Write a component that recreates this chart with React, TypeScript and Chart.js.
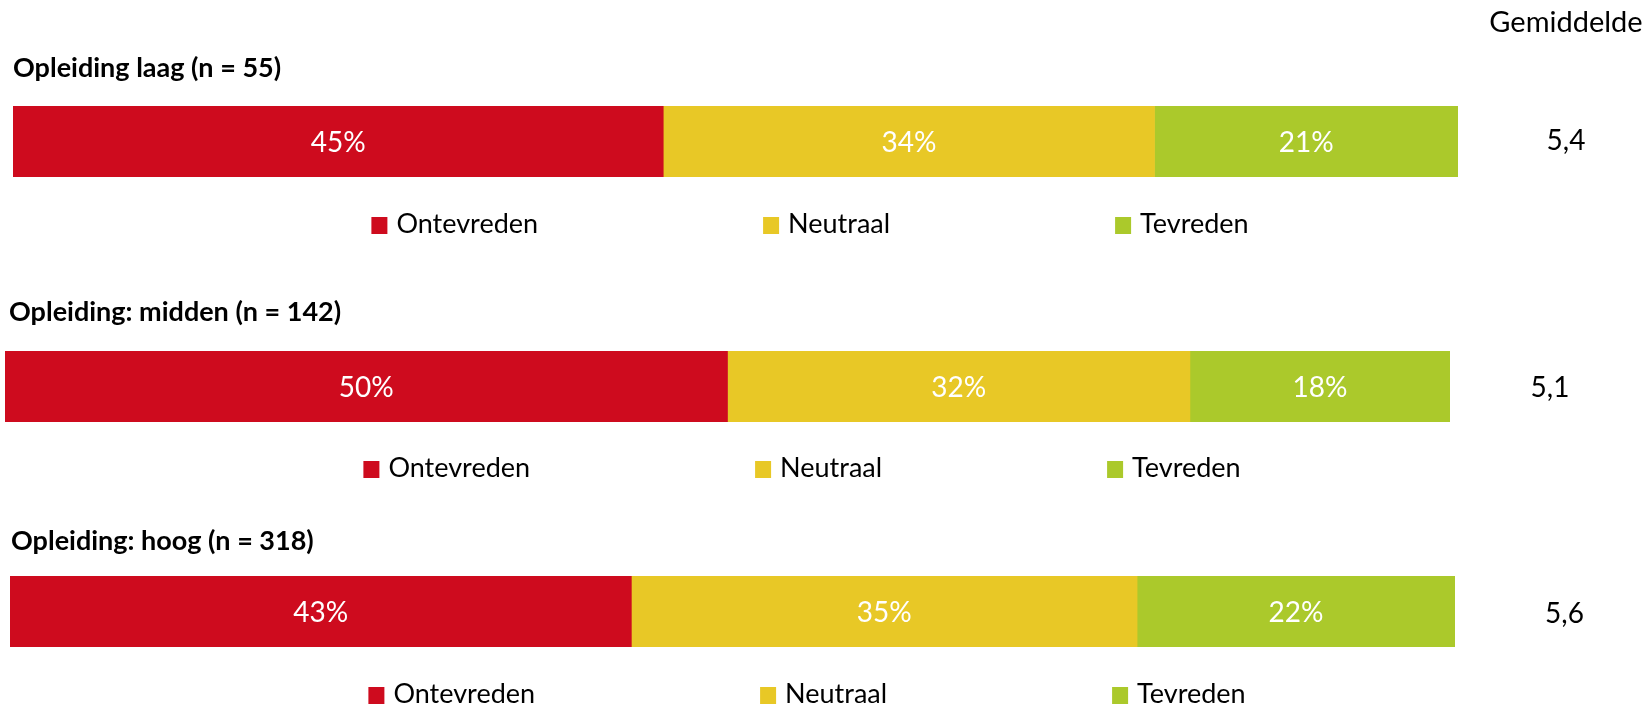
import React, { useEffect, useRef } from 'react';
import { Chart, registerables } from 'chart.js';

Chart.register(...registerables);

// ---- data ----
const groupTitles = ['Opleiding laag (n = 55)', 'Opleiding: midden (n = 142)', 'Opleiding: hoog (n = 318)'];
const seriesLabels = ['Ontevreden', 'Neutraal', 'Tevreden'];
const ontevreden = [45, 50, 43];
const neutraal = [34, 32, 35];
const tevreden = [21, 18, 22];
const gemiddelde = ['5,4', '5,1', '5,6'];
const averageHeader = 'Gemiddelde';
const seriesColors = ['#CE0B1E', '#E8C826', '#ABC92B'];

// ---- layout (canvas-local coordinates) ----
const FONT = '"Lato", "DejaVu Sans", sans-serif';
const panels = [
  { top: 0, height: 236, pad: { left: 13, right: 192, top: 106, bottom: 59 }, titleX: 13, titleBase: 77, avgX: 1566, avgBase: 150, legendBase: 233, legendOffset: 797, header: true },
  { top: 236, height: 250, pad: { left: 5, right: 200, top: 115, bottom: 64 }, titleX: 9, titleBase: 85, avgX: 1550, avgBase: 160.5, legendBase: 241, legendOffset: 797, header: false },
  { top: 486, height: 222, pad: { left: 10, right: 195, top: 90, bottom: 61 }, titleX: 11, titleBase: 64, avgX: 1564.5, avgBase: 137, legendBase: 217, legendOffset: 797, header: false },
];
const sizes = { title: 27, legend: 27, pct: 28, avg: 28, header: 29 };

const decorPlugin = {
  id: 'panelDecor',
  afterDatasetsDraw(chart: any, _args: any, opts: any) {
    const { ctx, chartArea } = chart;
    ctx.save();
    ctx.textBaseline = 'alphabetic';
    // value labels inside bars
    chart.data.datasets.forEach((ds: any, di: number) => {
      const meta = chart.getDatasetMeta(di);
      meta.data.forEach((el: any, i: number) => {
        const p = el.getProps(['x', 'y', 'base'], true);
        const cx = (p.x + p.base) / 2;
        ctx.font = `${sizes.pct}px ${FONT}`;
        ctx.fillStyle = '#FFFFFF';
        ctx.textAlign = 'center';
        ctx.fillText(`${ds.data[i]}%`, cx, p.y + sizes.pct * 0.36);
      });
    });
    // group title
    ctx.fillStyle = '#000000';
    ctx.textAlign = 'left';
    ctx.font = `bold ${sizes.title}px ${FONT}`;
    ctx.fillText(opts.title, opts.titleX, opts.titleBase);
    // average
    ctx.textAlign = 'center';
    ctx.font = `${sizes.avg}px ${FONT}`;
    ctx.fillText(opts.avg, opts.avgX, opts.avgBase);
    if (opts.header) {
      ctx.font = `${sizes.header}px ${FONT}`;
      ctx.fillText(opts.header, opts.avgX, 32);
    }
    // legend
    ctx.font = `${sizes.legend}px ${FONT}`;
    ctx.textAlign = 'left';
    const box = 16;
    const boxGap = 9;
    const itemGap = 225;
    const items = chart.data.datasets.map((ds: any) => ({
      text: ds.label,
      color: ds.backgroundColor,
      w: ctx.measureText(ds.label).width,
    }));
    const total = items.reduce((s: number, it: any) => s + box + boxGap + it.w, 0) + itemGap * (items.length - 1);
    let x = chartArea.left + opts.legendOffset - total / 2;
    items.forEach((it: any) => {
      ctx.fillStyle = it.color;
      ctx.fillRect(x, opts.legendBase - 16, box, 17);
      ctx.fillStyle = '#000000';
      ctx.fillText(it.text, x + box + boxGap, opts.legendBase);
      x += box + boxGap + it.w + itemGap;
    });
    ctx.restore();
  },
};

function Panel({ index }: { index: number }) {
  const ref = useRef<HTMLCanvasElement | null>(null);
  const p = panels[index];
  useEffect(() => {
    if (!ref.current) return;
    const values = [ontevreden, neutraal, tevreden];
    const chart = new Chart(ref.current, {
      type: 'bar',
      data: {
        labels: [groupTitles[index]],
        datasets: seriesLabels.map((label, k) => ({
          label,
          data: [values[k][index]],
          backgroundColor: seriesColors[k],
          borderWidth: 0,
          barPercentage: 1,
          categoryPercentage: 1,
        })),
      },
      options: {
        indexAxis: 'y',
        responsive: false,
        animation: false,
        layout: { padding: p.pad },
        scales: {
          x: { stacked: true, min: 0, max: 100, display: false },
          y: { stacked: true, display: false },
        },
        plugins: {
          legend: { display: false },
          tooltip: { enabled: false },
          panelDecor: {
            title: groupTitles[index],
            titleX: p.titleX,
            titleBase: p.titleBase,
            avg: gemiddelde[index],
            avgX: p.avgX,
            avgBase: p.avgBase,
            legendBase: p.legendBase,
            legendOffset: p.legendOffset,
            header: p.header ? averageHeader : null,
          },
        } as any,
      },
      plugins: [decorPlugin as any],
    });
    return () => chart.destroy();
  }, [index]);
  return (
    <div style={{ position: 'absolute', left: 0, top: p.top, width: 1650, height: p.height }}>
      <canvas ref={ref} width={1650} height={p.height} style={{ width: 1650, height: p.height, display: 'block' }} />
    </div>
  );
}

export default function App() {
  return (
    <div style={{ position: 'absolute', left: 0, top: 0, width: 1650, height: 708, background: '#FFFFFF', overflow: 'hidden' }}>
      {panels.map((_, i) => (
        <Panel key={i} index={i} />
      ))}
    </div>
  );
}
